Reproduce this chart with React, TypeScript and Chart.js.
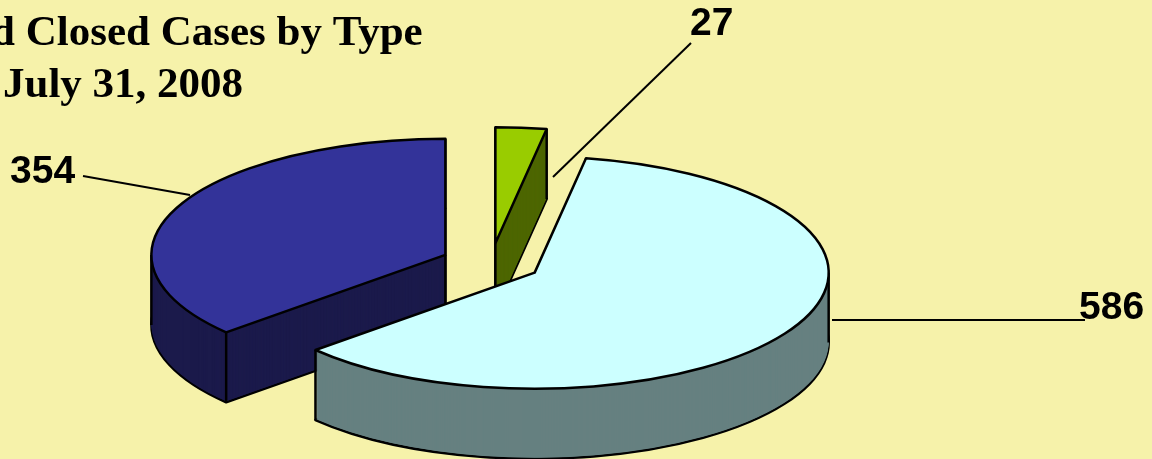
import React, { useEffect, useRef } from 'react';
import { Chart, registerables } from 'chart.js';

Chart.register(...registerables);

// ---- data ----
const categories = ['Type 1', 'Type 2', 'Type 3'];
const values = [27, 586, 354];
const titleLines = ['d Closed Cases by Type', 'July 31, 2008'];

// ---- styles ----
const topColors = ['#99CC00', '#CCFFFF', '#333399'];
const sideColors = ['#4D6600', '#668080', '#1B1A4B'];
const BG = '#F6F2AA';

// ---- layout ----
const W = 1152;
const H = 459;
const TILT = 0.395;
const DEPTH = 70;
const EXPLODE = 50;
const RADIUS = 294;
const DRAW_ORDER = [0, 2, 1];
const labelPos = [
  { x: 690, y: 35, lx1: 691, ly1: 43, lx2: 553, ly2: 177 },
  { x: 1079, y: 319, lx1: 832, ly1: 320, lx2: 1085, ly2: 320 },
  { x: 10, y: 183, lx1: 83, ly1: 176, lx2: 190, ly2: 195 },
];
const titlePos = [
  { x: -9, y: 45 },
  { x: 3, y: 97 },
];

const pie3d = {
  id: 'pie3d',
  beforeDatasetsDraw(chart: any) {
    const ctx: CanvasRenderingContext2D = chart.ctx;
    const meta = chart.getDatasetMeta(0);
    const arcs = meta.data;
    ctx.save();
    ctx.lineWidth = 2.5;
    ctx.lineJoin = 'round';
    ctx.strokeStyle = '#000';
    for (const i of DRAW_ORDER) {
      const a = arcs[i];
      const { x, y, startAngle, endAngle, outerRadius } = a.getProps(
        ['x', 'y', 'startAngle', 'endAngle', 'outerRadius'],
        true
      );
      const mid = (startAngle + endAngle) / 2;
      const cx = x + Math.cos(mid) * EXPLODE;
      const cy = y + Math.sin(mid) * EXPLODE * TILT;
      const rx = outerRadius;
      const ry = outerRadius * TILT;
      const path = (dy: number) => {
        ctx.beginPath();
        ctx.moveTo(cx, cy + dy);
        ctx.ellipse(cx, cy + dy, rx, ry, 0, startAngle, endAngle);
        ctx.closePath();
      };
      // bottom
      path(DEPTH);
      ctx.fillStyle = sideColors[i];
      ctx.fill();
      ctx.stroke();
      for (let d = DEPTH - 1; d >= 1; d--) {
        path(d);
        ctx.fill();
      }
      // vertical edges
      const pts: number[][] = [[cx, cy]];
      pts.push([cx + rx * Math.cos(startAngle), cy + ry * Math.sin(startAngle)]);
      pts.push([cx + rx * Math.cos(endAngle), cy + ry * Math.sin(endAngle)]);
      for (const t of [0, Math.PI, 2 * Math.PI]) {
        if (t > startAngle && t < endAngle) {
          pts.push([cx + rx * Math.cos(t), cy + ry * Math.sin(t)]);
        }
      }
      ctx.beginPath();
      for (const [px, py] of pts) {
        ctx.moveTo(px, py);
        ctx.lineTo(px, py + DEPTH);
      }
      ctx.stroke();
      // top
      path(0);
      ctx.fillStyle = topColors[i];
      ctx.fill();
      ctx.stroke();
    }
    ctx.restore();
    return false;
  },
  afterDraw(chart: any) {
    const ctx: CanvasRenderingContext2D = chart.ctx;
    ctx.save();
    // labels + leader lines
    ctx.strokeStyle = '#000';
    ctx.lineWidth = 2;
    ctx.fillStyle = '#000';
    ctx.font = 'bold 39px "Liberation Sans", Arial, sans-serif';
    ctx.textBaseline = 'alphabetic';
    ctx.textAlign = 'left';
    const data = chart.data.datasets[0].data;
    data.forEach((v: number, i: number) => {
      const p = labelPos[i];
      ctx.beginPath();
      ctx.moveTo(p.lx1, p.ly1);
      ctx.lineTo(p.lx2, p.ly2);
      ctx.stroke();
      ctx.fillText(String(v), p.x, p.y);
    });
    // title
    ctx.font = 'bold 43px "Liberation Serif", "Times New Roman", serif';
    titleLines.forEach((t, i) => {
      ctx.fillText(t, titlePos[i].x, titlePos[i].y);
    });
    ctx.restore();
  },
};

export default function App() {
  const ref = useRef<HTMLCanvasElement | null>(null);
  useEffect(() => {
    if (!ref.current) return;
    const chart = new Chart(ref.current, {
      type: 'pie',
      data: {
        labels: categories,
        datasets: [
          {
            data: values,
            backgroundColor: topColors,
            borderColor: '#000',
            borderWidth: 2,
          },
        ],
      },
      options: {
        responsive: false,
        animation: false,
        events: [],
        radius: RADIUS,
        layout: { padding: { left: 0, right: 170, top: 67, bottom: 0 } },
        plugins: {
          legend: { display: false },
          tooltip: { enabled: false },
          title: { display: false },
        },
      } as any,
      plugins: [pie3d],
    });
    return () => chart.destroy();
  }, []);
  return (
    <div
      style={{
        position: 'fixed',
        left: 0,
        top: 0,
        width: W,
        height: H,
        background: BG,
        overflow: 'hidden',
      }}
    >
      <canvas ref={ref} width={W} height={H} style={{ width: W, height: H, display: 'block' }} />
    </div>
  );
}
